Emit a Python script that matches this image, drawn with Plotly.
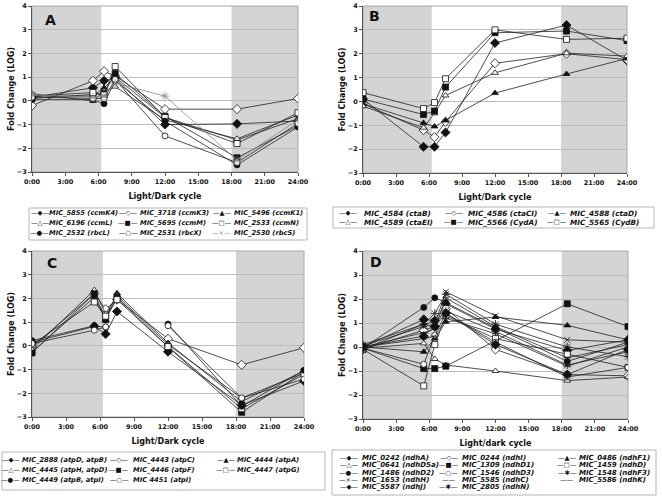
import plotly.graph_objects as go

W, H = 662, 498
FONT = "DejaVu Sans"

TIMES = [0, 5.5, 6.5, 7.5, 12, 18.5, 24]
X_TICKS = [0, 3, 6, 9, 12, 15, 18, 21, 24]
X_TICK_LABELS = ["0:00", "3:00", "6:00", "9:00", "12:00", "15:00", "18:00", "21:00", "24:00"]
Y_TICKS = [-3, -2, -1, 0, 1, 2, 3, 4]
DARK_PERIODS = [(0, 6.25), (18, 24)]

# ---------------- Panel A ----------------
A_LABELS = ["MIC_5855 (ccmK4)", "MIC_3718 (ccmK3)", "MIC_5496 (ccmK1)",
            "MIC_6196 (ccmL)", "MIC_5695 (ccmM)", "MIC_2533 (ccmN)",
            "MIC_2532 (rbcL)", "MIC_2531 (rbcX)", "MIC_2530 (rbcS)"]
A_STYLES = ["dia", "dia_o", "tri", "tri_o", "sq", "sq_o", "cir", "cir_o", "x_gray"]
A_MIC_5855 = [0.15, 0.55, 0.85, 0.95, -1.00, -0.97, -0.85]
A_MIC_3718 = [-0.20, 0.85, 1.25, 1.05, -0.35, -0.35, 0.10]
A_MIC_5496 = [0.20, 0.20, 0.55, 1.00, -0.70, -1.65, -0.75]
A_MIC_6196 = [0.30, 0.00, 0.40, 0.60, -0.80, -1.60, -0.60]
A_MIC_5695 = [0.10, 0.25, 0.30, 1.15, -0.65, -2.40, -1.05]
A_MIC_2533 = [0.20, 0.35, 0.25, 1.45, -0.70, -1.80, -0.50]
A_MIC_2532 = [0.05, 0.05, -0.12, 0.85, -0.85, -2.70, -1.10]
A_MIC_2531 = [0.15, 0.10, 0.10, 0.90, -1.48, -2.60, -0.95]
A_MIC_2530 = [0.25, 0.15, 0.20, 0.75, 0.20, -2.50, -0.80]
A_VALUES = [A_MIC_5855, A_MIC_3718, A_MIC_5496, A_MIC_6196, A_MIC_5695,
            A_MIC_2533, A_MIC_2532, A_MIC_2531, A_MIC_2530]

# ---------------- Panel B ----------------
B_LABELS = ["MIC_4584 (ctaB)", "MIC_4586 (ctaCI)", "MIC_4588 (ctaD)",
            "MIC_4589 (ctaEI)", "MIC_5566 (CydA)", "MIC_5565 (CydB)"]
B_STYLES = ["dia", "dia_o", "tri", "tri_o", "sq", "sq_o"]
B_MIC_4584 = [0.10, -1.90, -1.90, -1.30, 2.45, 3.20, 1.72]
B_MIC_4586 = [-0.10, -1.20, -1.50, -0.85, 1.60, 2.00, 1.75]
B_MIC_4588 = [-0.10, -0.90, -1.05, -0.80, 0.35, 1.15, 1.80]
B_MIC_4589 = [-0.20, -1.10, -0.50, 0.25, 1.20, 2.02, 1.90]
B_MIC_5566 = [0.10, -0.55, -0.40, 0.60, 2.88, 2.95, 2.55]
B_MIC_5565 = [0.37, -0.30, -0.05, 0.95, 3.00, 2.60, 2.65]
B_VALUES = [B_MIC_4584, B_MIC_4586, B_MIC_4588, B_MIC_4589, B_MIC_5566, B_MIC_5565]

# ---------------- Panel C ----------------
C_LABELS = ["MIC_2888 (atpD, atpB)", "MIC_4443 (atpC)", "MIC_4444 (atpA)",
            "MIC_4445 (atpH, atpD)", "MIC_4446 (atpF)", "MIC_4447 (atpG)",
            "MIC_4449 (atpB, atpI)", "MIC 4451 (atpI)"]
C_STYLES = ["dia", "dia_o", "tri", "tri_o", "sq", "sq_o", "cir", "cir_o"]
C_MIC_2888 = [0.15, 0.82, 0.50, 1.45, -0.25, -2.50, -1.48]
C_MIC_4443 = [-0.05, 2.20, 1.55, 1.95, 0.30, -0.80, -0.08]
C_MIC_4444 = [-0.25, 2.05, 1.10, 2.22, 0.12, -2.35, -1.05]
C_MIC_4445 = [-0.15, 2.35, 1.35, 2.12, 0.05, -2.20, -1.15]
C_MIC_4446 = [-0.30, 2.20, 1.10, 2.05, -0.05, -2.80, -1.10]
C_MIC_4447 = [0.05, 1.85, 1.25, 1.95, -0.03, -2.65, -1.20]
C_MIC_4449 = [0.22, 0.85, 0.78, None, 0.92, -2.55, -1.03]
C_MIC_4451 = [0.10, 0.66, 0.80, None, 0.85, -2.20, -1.40]
C_VALUES = [C_MIC_2888, C_MIC_4443, C_MIC_4444, C_MIC_4445, C_MIC_4446,
            C_MIC_4447, C_MIC_4449, C_MIC_4451]

# ---------------- Panel D ----------------
D_LABELS = ["MIC_0242 (ndhA)", "MIC_0244 (ndhI)", "MIC_0486 (ndhF1)",
            "MIC_0641 (ndhD5a)", "MIC_1309 (ndhD1)", "MIC_1459 (ndhD)",
            "MIC_1486 (ndhD2)", "MIC_1546 (ndhD3)", "MIC_1548 (ndhF3)",
            "MIC_1653 (ndhH)", "MIC_5585 (ndhC)", "MIC_5586 (ndhK)",
            "MIC_5587 (ndhJ)", "MIC_2805 (ndhN)"]
D_STYLES = ["dia", "dia_o", "tri", "tri_o", "sq", "sq_o", "cir", "cir_o",
            "ast", "x", "line", "line", "dia", "ast"]
D_MIC_0242 = [0.00, 1.15, 1.10, 1.80, 0.75, -0.15, 0.30]
D_MIC_0244 = [-0.10, 0.70, 0.85, 1.60, -0.10, -1.15, -1.20]
D_MIC_0486 = [0.00, -0.20, 0.35, 1.05, 1.25, 0.90, 0.30]
D_MIC_0641 = [-0.05, 0.15, -0.50, -0.75, -1.00, -1.40, -1.25]
D_MIC_1309 = [-0.05, -0.90, -0.90, -0.80, None, 1.80, 0.85]
D_MIC_1459 = [-0.10, -1.62, 0.10, 1.30, 0.35, -0.30, -0.85]
D_MIC_1486 = [-0.05, 1.65, 2.05, 1.85, 0.80, -0.60, 0.20]
D_MIC_1546 = [-0.05, -0.72, 0.50, 1.40, 0.20, -1.25, -0.85]
D_MIC_1548 = [0.10, 0.95, 1.05, 1.50, 0.65, -0.75, -0.20]
D_MIC_1653 = [0.05, 0.85, 0.95, 2.30, 1.30, 0.30, 0.20]
D_MIC_5585 = [0.00, 0.60, 0.75, 2.05, 0.85, -0.45, 0.10]
D_MIC_5586 = [0.00, 0.35, 0.45, 1.20, 0.55, -0.80, 0.00]
D_MIC_5587 = [0.00, 0.45, 0.85, 1.40, 0.10, -1.15, -0.10]
D_MIC_2805 = [-0.10, 0.95, 1.40, 2.20, 0.95, 0.00, -0.40]
D_VALUES = [D_MIC_0242, D_MIC_0244, D_MIC_0486, D_MIC_0641, D_MIC_1309,
            D_MIC_1459, D_MIC_1486, D_MIC_1546, D_MIC_1548, D_MIC_1653,
            D_MIC_5585, D_MIC_5586, D_MIC_5587, D_MIC_2805]

# ---------------- styles ----------------
BLACK = "#111111"
GRAY = "#8a8a8a"
STYLE = {
    "dia":    dict(symbol="diamond", fill=BLACK, size=7, glyph="—◆—", col=BLACK),
    "dia_o":  dict(symbol="diamond", fill="white", size=7, glyph="—◇—", col=BLACK),
    "tri":    dict(symbol="triangle-up", fill=BLACK, size=6, glyph="—▲—", col=BLACK),
    "tri_o":  dict(symbol="triangle-up", fill="white", size=6, glyph="—△—", col=BLACK),
    "sq":     dict(symbol="square", fill=BLACK, size=6, glyph="—■—", col=BLACK),
    "sq_o":   dict(symbol="square", fill="white", size=6, glyph="—□—", col=BLACK),
    "cir":    dict(symbol="circle", fill=BLACK, size=6, glyph="—●—", col=BLACK),
    "cir_o":  dict(symbol="circle", fill="white", size=6, glyph="—○—", col=BLACK),
    "x":      dict(symbol="x-thin-open", fill=BLACK, size=6, glyph="—×—", col=BLACK),
    "x_gray": dict(symbol="asterisk-open", fill=GRAY, size=7, glyph="—×—", col=GRAY),
    "ast":    dict(symbol="asterisk-open", fill=BLACK, size=7, glyph="—✱—", col=BLACK),
    "line":   dict(symbol="line-ew-open", fill=BLACK, size=5, glyph="——", col=BLACK),
}

# panel layout: pixel boxes of plot areas
PANELS = [
    dict(key="A", labels=A_LABELS, styles=A_STYLES, values=A_VALUES,
         px=(32, 298), py=(6, 172), xtitle="Light/Dark cycle", letter_pos=(0.068, 0.915),
         leg=dict(gx=[39.5, 128, 221.5], tx=[48, 139, 233], rows=[213, 223, 233],
                  box=(29, 208, 307, 240), size=6.7)),
    dict(key="B", labels=B_LABELS, styles=B_STYLES, values=B_VALUES,
         px=(363, 627), py=(6, 173), xtitle="Light/Dark cycle", letter_pos=(0.042, 0.94),
         leg=dict(gx=[347.5, 454, 557], tx=[363, 467, 569], rows=[213, 222],
                  box=(333, 207, 654, 228), size=7.3)),
    dict(key="C", labels=C_LABELS, styles=C_STYLES, values=C_VALUES,
         px=(32, 304), py=(251, 417), xtitle="Light/Dark cycle", letter_pos=(0.074, 0.93),
         leg=dict(gx=[10.5, 119, 225.5], tx=[21, 132, 236], rows=[460, 470, 480],
                  box=(2, 452, 325, 490), size=6.7)),
    dict(key="D", labels=D_LABELS, styles=D_STYLES, values=D_VALUES,
         px=(363, 628), py=(251, 419), xtitle="Light/dark cycle", letter_pos=(0.049, 0.935),
         leg=dict(gx=[348.5, 448.5, 567], tx=[361, 461, 578],
                  rows=[458, 465.3, 472.6, 480, 487.3],
                  box=(332, 450, 656, 495), size=7.0)),
]

fig = go.Figure()
layout = {}
shapes = []
annotations = []

for i, p in enumerate(PANELS):
    n = "" if i == 0 else str(i + 1)
    xa, ya = "x" + n, "y" + n
    dom_x = [p["px"][0] / W, p["px"][1] / W]
    dom_y = [1 - p["py"][1] / H, 1 - p["py"][0] / H]

    for lab, st, vals in zip(p["labels"], p["styles"], p["values"]):
        s = STYLE[st]
        line_col = GRAY if st == "x_gray" else "#222222"
        fig.add_trace(go.Scatter(
            x=TIMES, y=vals, name=lab, mode="lines+markers",
            xaxis=xa, yaxis=ya, showlegend=False,
            connectgaps=(p["key"] == "D"),
            line=dict(color=line_col, width=0.8),
            marker=dict(symbol=s["symbol"], size=s["size"], color=s["fill"],
                        line=dict(color=s["col"], width=0.8)),
        ))

    layout["xaxis" + n] = dict(
        domain=dom_x, anchor=ya, range=[0, 24], tickvals=X_TICKS, ticktext=X_TICK_LABELS,
        showgrid=False, zeroline=False, showline=True, linecolor="#555555", linewidth=1,
        ticks="outside", ticklen=3, tickcolor="#555555",
        tickfont=dict(family=FONT, size=6.5, color="#111111", weight="bold"),
        title=dict(text=p["xtitle"], standoff=8,
                   font=dict(family=FONT, size=8, color="#111111", weight="bold")),
        automargin=False,
    )
    layout["yaxis" + n] = dict(
        domain=dom_y, anchor=xa, range=[-3, 4], tickvals=Y_TICKS,
        showgrid=True, gridcolor="#bcbcbc", gridwidth=1, zeroline=False,
        showline=True, linecolor="#555555", linewidth=1,
        ticks="outside", ticklen=3, tickcolor="#555555",
        tickfont=dict(family=FONT, size=6.5, color="#111111", weight="bold"),
        title=dict(text="Fold Change (LOG)", standoff=0,
                   font=dict(family=FONT, size=8, color="#111111", weight="bold")),
        automargin=False,
    )

    # dark-period shading
    for x0, x1 in DARK_PERIODS:
        shapes.append(dict(type="rect", xref=xa, yref=ya + " domain", x0=x0, x1=x1,
                           y0=0, y1=1, fillcolor="#d4d4d4", line=dict(width=0),
                           layer="below"))
    # plot-area frame
    shapes.append(dict(type="rect", xref=xa + " domain", yref=ya + " domain",
                       x0=0, x1=1, y0=0, y1=1, line=dict(color="#a8a8a8", width=1),
                       fillcolor="rgba(0,0,0,0)", layer="below"))

    # panel letter
    annotations.append(dict(text="<b>%s</b>" % p["key"], xref=xa + " domain",
                            yref=ya + " domain", x=p["letter_pos"][0], y=p["letter_pos"][1],
                            showarrow=False, xanchor="center", yanchor="middle",
                            font=dict(family=FONT, size=14, color="#111111")))

    # legend block
    lg = p["leg"]
    for j, (lab, st) in enumerate(zip(p["labels"], p["styles"])):
        r, c = divmod(j, 3)
        yy = 1 - lg["rows"][r] / H
        s = STYLE[st]
        annotations.append(dict(text=s["glyph"], xref="paper", yref="paper",
                                x=lg["gx"][c] / W, y=yy, showarrow=False,
                                xanchor="center", yanchor="middle", borderpad=0,
                                font=dict(family=FONT, size=6.5, color=s["col"])))
        annotations.append(dict(text=lab, xref="paper", yref="paper",
                                x=lg["tx"][c] / W, y=yy, showarrow=False,
                                xanchor="left", yanchor="middle", borderpad=0,
                                font=dict(family=FONT, size=lg["size"], color="#111111",
                                          weight="bold", style="italic")))
    bx0, by0, bx1, by1 = lg["box"]
    shapes.append(dict(type="rect", xref="paper", yref="paper",
                       x0=bx0 / W, x1=bx1 / W, y0=1 - by1 / H, y1=1 - by0 / H,
                       line=dict(color="#b5b5b5", width=1), fillcolor="rgba(0,0,0,0)"))

fig.update_layout(
    width=W, height=H, margin=dict(l=0, r=0, t=0, b=0),
    paper_bgcolor="white", plot_bgcolor="white",
    showlegend=False, shapes=shapes, annotations=annotations, **layout,
)

fig.write_html(
    "out.html",
    config={"displayModeBar": False},
    post_script="document.body.style.margin='0';document.body.style.padding='0';",
)
